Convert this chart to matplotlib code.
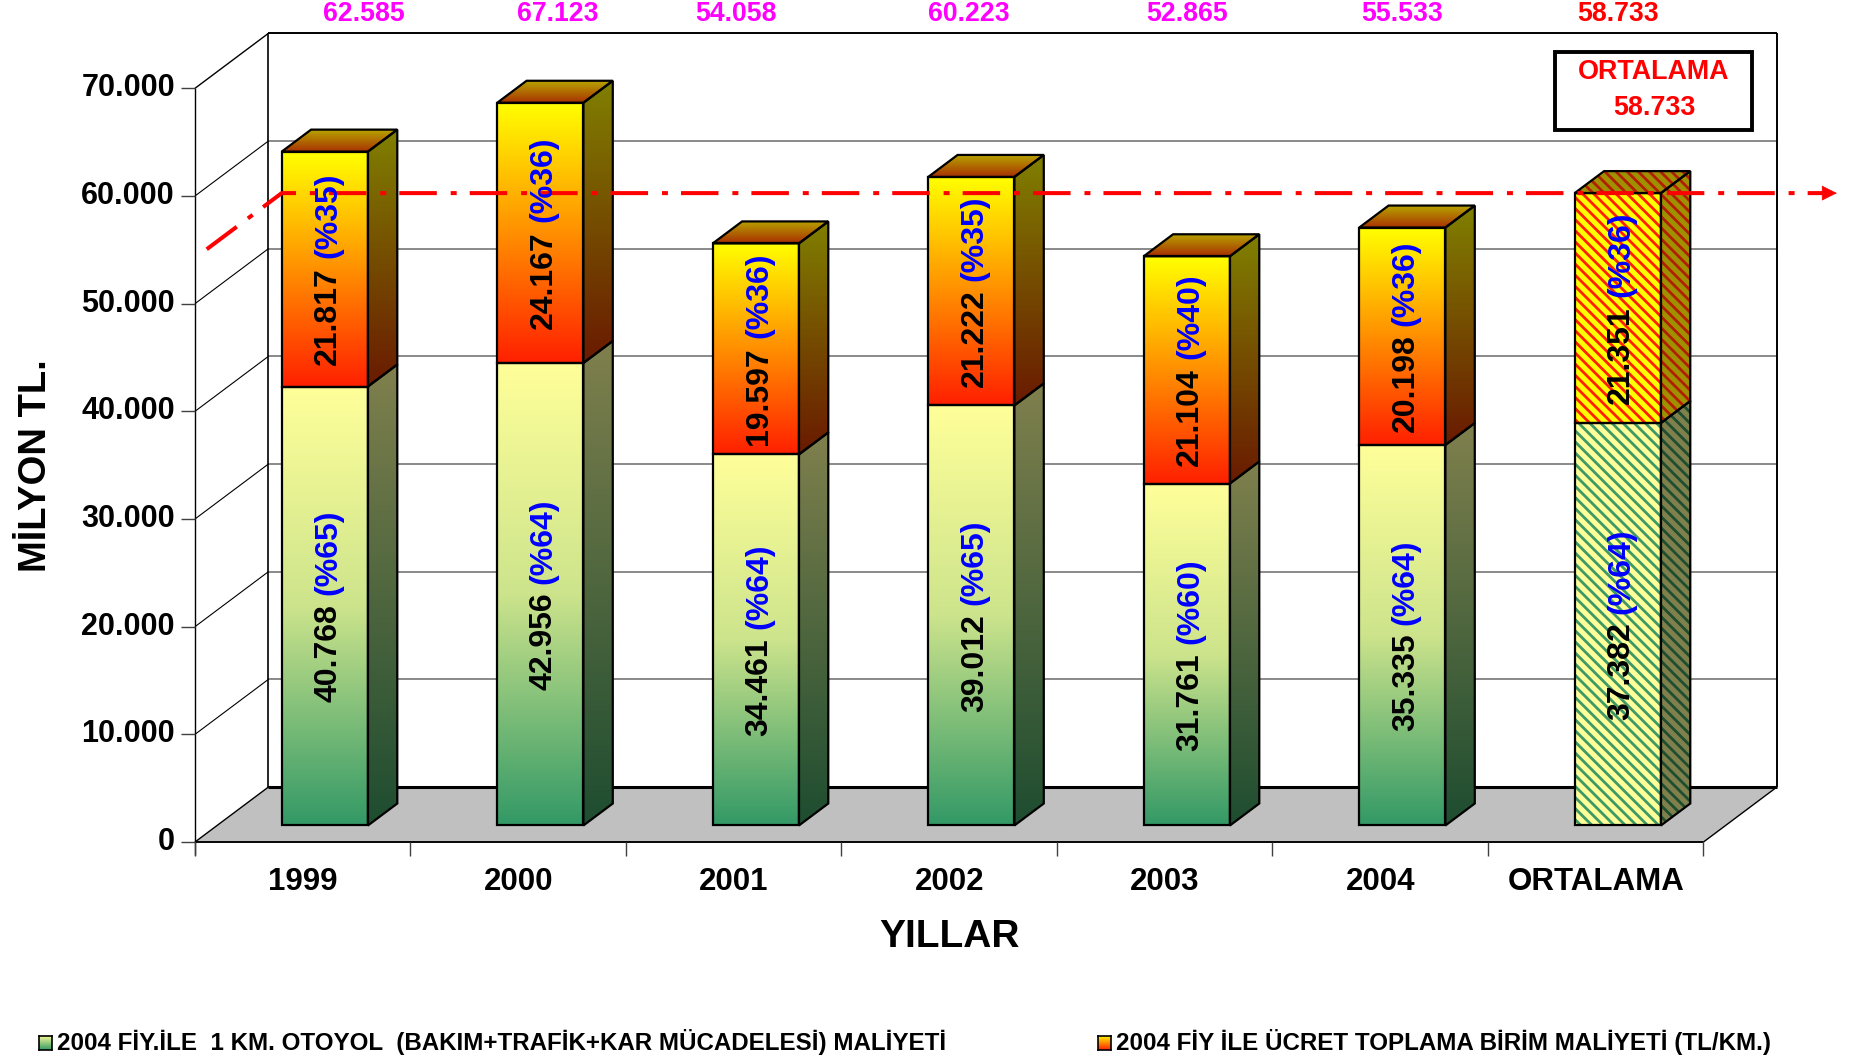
import numpy as np
import matplotlib
matplotlib.use("Agg")
import matplotlib.pyplot as plt
from matplotlib.patches import Polygon, Rectangle
from matplotlib.colors import LinearSegmentedColormap

# 2004 fiyatlarıyla otoyol maliyetleri (bin milyon TL / km)
years = ["1999", "2000", "2001", "2002", "2003", "2004", "ORTALAMA"]
maint = [40768, 42956, 34461, 39012, 31761, 35335, 37382]
toll = [21817, 24167, 19597, 21222, 21104, 20198, 21351]
totals = [62585, 67123, 54058, 60223, 52865, 55533, 58733]
maint_pct = [65, 64, 64, 65, 60, 64, 64]
toll_pct = [35, 36, 36, 35, 40, 36, 36]
average = 58733
yticks = [0, 10000, 20000, 30000, 40000, 50000, 60000, 70000]

legend_maint = "2004 FİY.İLE  1 KM. OTOYOL  (BAKIM+TRAFİK+KAR MÜCADELESİ) MALİYETİ"
legend_toll = "2004 FİY İLE ÜCRET TOPLAMA BİRİM MALİYETİ (TL/KM.)"

# hand-placed nudges of the total labels, in category widths
total_nudge = [0.18, 0.08, -0.09, -0.01, 0.0, 0.0, 0.0]

plt.rcParams["font.family"] = ["Liberation Sans", "DejaVu Sans"]
plt.rcParams["font.weight"] = "bold"
plt.rcParams["hatch.linewidth"] = 2.0
plt.rcParams["lines.scale_dashes"] = False


def fmt(v):
    return f"{v:,}".replace(",", ".")


W, H = 1856, 1058
fig = plt.figure(figsize=(W / 100, H / 100), dpi=100)
ax = fig.add_axes([195 / W, (H - 842) / H, 1508.5 / W, 753.7 / H])
ax.set_autoscale_on(False)
ax.set_xlim(0, 7)
ax.set_ylim(0, 70000)
ax.axis("off")

n = len(years)
ymax = yticks[-1]
DX, DV = 0.341, 5110      # depth offset of the back wall
B0, B1 = 0.30, 0.70       # bar extent inside a category (width and depth)


def P(x, v, d):
    return (x + d * DX, v + d * DV)


def seg(p, q, **kw):
    ax.plot([p[0], q[0]], [p[1], q[1]], clip_on=False, solid_capstyle="butt", **kw)


def grad(pts, colors, z):
    pts = np.asarray(pts)
    poly = Polygon(pts, closed=True, transform=ax.transData)
    cmap = LinearSegmentedColormap.from_list("g", colors)
    im = ax.imshow(np.linspace(0, 1, 256).reshape(-1, 1), cmap=cmap, origin="lower",
                   extent=(pts[:, 0].min(), pts[:, 0].max(), pts[:, 1].min(), pts[:, 1].max()),
                   aspect="auto", interpolation="bilinear", zorder=z)
    im.set_clip_box(fig.bbox)
    im.set_clip_path(poly)


def hatched(pts, base, stripe, z):
    ax.add_patch(Polygon(pts, closed=True, fc=base, ec="none", zorder=z, clip_on=False))
    ax.add_patch(Polygon(pts, closed=True, fc="none", ec=stripe, lw=0, hatch="\\\\\\",
                         zorder=z, clip_on=False))


def outline(pts, z):
    ax.add_patch(Polygon(pts, closed=True, fc="none", ec="black", lw=1.6,
                         zorder=z, clip_on=False, joinstyle="miter"))


# back wall, floor and grid
ax.add_patch(Polygon([P(0, 0, 1), P(n, 0, 1), P(n, ymax, 1), P(0, ymax, 1)],
                     closed=True, fc="white", ec="none", zorder=0, clip_on=False))
ax.add_patch(Polygon([P(0, 0, 0), P(n, 0, 0), P(n, 0, 1), P(0, 0, 1)],
                     closed=True, fc="#C0C0C0", ec="black", lw=1.0, zorder=1, clip_on=False))
for v in yticks[1:-1]:
    seg(P(0, v, 1), P(n, v, 1), color="#808080", lw=1.3, zorder=2)
    seg(P(0, v, 0), P(0, v, 1), color="black", lw=0.8, zorder=2)
seg(P(0, ymax, 0), P(0, ymax, 1), color="black", lw=1.0, zorder=2)
seg(P(0, ymax, 1), P(n, ymax, 1), color="black", lw=1.4, zorder=2)
seg(P(n, 0, 1), P(n, ymax, 1), color="black", lw=1.4, zorder=2)
seg(P(0, 0, 1), P(0, ymax, 1), color="black", lw=1.2, zorder=2)
seg(P(0, 0, 1), P(n, 0, 1), color="black", lw=2.2, zorder=2)
seg((0, -1200), (0, ymax), color="black", lw=1.0, zorder=2)
seg((0, 0), (n, 0), color="black", lw=1.2, zorder=2)

for v in yticks:
    seg((-0.065, v), (0, v), color="#404040", lw=1.0, zorder=2)
    ax.text(-0.093, v, fmt(v), ha="right", va="center", fontsize=22)
for i in range(n + 1):
    seg((i, 0), (i, -1300), color="#404040", lw=1.0, zorder=2)
for i, name in enumerate(years):
    ax.text(i + 0.5, -3715, name, ha="center", va="center", fontsize=22.5)

ax.text(3.5, -8824, "YILLAR", ha="center", va="center", fontsize=28)
ax.text(-0.74, 35000, "MİLYON TL.", ha="center", va="center", rotation=90, fontsize=27.5)

# bars
labels = []
for i in range(n):
    x0, x1 = i + B0, i + B1
    m, t = maint[i], maint[i] + toll[i]
    z = 5
    front_lo = [P(x0, 0, B0), P(x1, 0, B0), P(x1, m, B0), P(x0, m, B0)]
    side_lo = [P(x1, 0, B0), P(x1, 0, B1), P(x1, m, B1), P(x1, m, B0)]
    front_hi = [P(x0, m, B0), P(x1, m, B0), P(x1, t, B0), P(x0, t, B0)]
    side_hi = [P(x1, m, B0), P(x1, m, B1), P(x1, t, B1), P(x1, t, B0)]
    top = [P(x0, t, B0), P(x1, t, B0), P(x1, t, B1), P(x0, t, B1)]
    if years[i] == "ORTALAMA":
        hatched(front_lo, "#FFFF99", "#3D9966", z)
        hatched(side_lo, "#80804D", "#1E4D30", z)
        hatched(front_hi, "#FFFF00", "#FF2000", z)
        hatched(side_hi, "#A09000", "#B02000", z)
        hatched(top, "#A09000", "#B02000", z)
    else:
        grad(front_lo, ["#339966", "#CDE48C", "#FFFF99"], z)
        grad(side_lo, ["#1E4D30", "#80804D"], z)
        grad(front_hi, ["#FF2000", "#FFFF00"], z)
        grad(side_hi, ["#6A1A00", "#808000"], z)
        grad(top, ["#A83000", "#B8A800"], z)
    for pts in (front_lo, side_lo, front_hi, side_hi, top):
        outline(pts, z + 1)
    for lo, hi, val, pct in ((0, m, maint[i], maint_pct[i]), (m, t, toll[i], toll_pct[i])):
        cx, cy = P(i + 0.5, (lo + hi) / 2, B0)
        kw = dict(rotation=90, rotation_mode="anchor", ha="left", va="center_baseline",
                  fontsize=23, zorder=10)
        t1 = ax.text(cx, cy, fmt(val), color="black", **kw)
        t2 = ax.text(cx, cy, f"(%{pct})", color="#0000FF", **kw)
        labels.append((t1, t2, cx, cy))
    ax.text(i + 0.5 + B0 * DX + total_nudge[i], 76905, fmt(totals[i]), ha="center", va="center",
            fontsize=19.2, color="#FF0000" if years[i] == "ORTALAMA" else "#FF00FF")

# average line with arrow
pb = P(B0, average, B0)
pa = P(B0, average, B0 - 1.02)
tip = 7.619
end = tip - 14 / 215.5
ax.plot([pa[0], pb[0], end], [pa[1], pb[1], pb[1]], color="#FF0000", lw=2.9,
        dashes=(27, 10, 4.3, 9.4), clip_on=False, zorder=9)
ax.annotate("", xy=(tip, pb[1]), xytext=(end, pb[1]), annotation_clip=False,
            arrowprops=dict(arrowstyle="-|>,head_length=1.0,head_width=0.5", color="#FF0000",
                            lw=0.5, shrinkA=0, shrinkB=0), zorder=9)

# two-colour labels inside the segments, centred along the bar
fig.canvas.draw()
r = fig.canvas.get_renderer()
inv = ax.transData.inverted()
gap = 9
for t1, t2, cx, cy in labels:
    h1 = t1.get_window_extent(r).height
    h2 = t2.get_window_extent(r).height
    dx, dy = ax.transData.transform((cx, cy))
    start = dy - (h1 + gap + h2) / 2
    t1.set_position(inv.transform((dx, start)))
    t2.set_position(inv.transform((dx, start + h1 + gap)))

# average box
fig.add_artist(Rectangle((1555 / W, 1 - 130 / H), 197 / W, 77.7 / H, transform=fig.transFigure,
                         fc="white", ec="black", lw=2.8))
fig.text(1654 / W, 1 - 71.7 / H, "ORTALAMA", color="#FF0000", ha="center", va="center", fontsize=19.4)
fig.text(1654 / W, 1 - 108.3 / H, fmt(average), color="#FF0000", ha="center", va="center", fontsize=19.4)

# legend
for sx, colors, text in ((39, ["#339966", "#FFFF99"], legend_maint),
                         (1098, ["#FF2000", "#FFFF00"], legend_toll)):
    sw = fig.add_axes([sx / W, 1 - 1050 / H, 13 / W, 14 / H])
    sw.imshow(np.linspace(0, 1, 64).reshape(-1, 1), origin="lower", aspect="auto",
              cmap=LinearSegmentedColormap.from_list("s", colors))
    sw.set_xticks([])
    sw.set_yticks([])
    for s in sw.spines.values():
        s.set_linewidth(1.2)
    fig.text((sx + 18) / W, 1 - 1042 / H, text, ha="left", va="center", fontsize=17.4)

fig.savefig("out.png", dpi=100)
